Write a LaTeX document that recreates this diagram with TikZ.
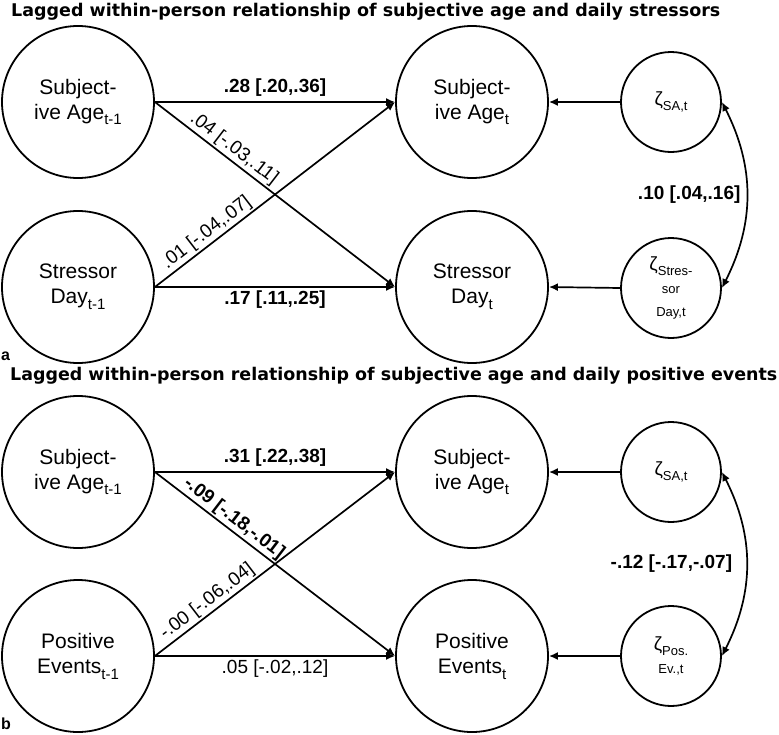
\documentclass[tikz,border=0pt]{standalone}
\usepackage{fontspec}
\setmainfont{Liberation Sans}
\newfontfamily\titlefont{DejaVu Sans}
\usetikzlibrary{arrows.meta}
\newcommand\lsub[1]{\raisebox{-0.28em}{\fontsize{15}{15}\selectfont #1}}
\newcommand\zsub[1]{\raisebox{-0.35em}{\fontsize{13}{13}\selectfont #1}}
\newcommand\zz{{\fontsize{19}{19}\selectfont ζ}}
\begin{document}
\begin{tikzpicture}[x=1pt,y=-1pt,
  big/.style={circle,draw,line width=1.8pt,minimum size=152pt,inner sep=0pt,align=center,font=\fontsize{21}{25}\selectfont},
  small/.style={circle,draw,line width=1.8pt,minimum size=100pt,inner sep=0pt,align=center,font=\fontsize{13}{23}\selectfont},
  arr/.style={line width=1.7pt,-{Latex[length=9pt,width=8pt]}},
  cov/.style={line width=1.7pt,{Latex[length=9pt,width=8pt]}-{Latex[length=9pt,width=8pt]}},
  est/.style={font=\fontsize{19}{22}\selectfont\bfseries},
  ns/.style={font=\fontsize{19}{22}\selectfont},
  diag/.style={sloped,above,inner sep=1.8pt},
  ttl/.style={anchor=base west,inner sep=0pt},
  pnl/.style={anchor=west,inner sep=0pt,font=\fontsize{16}{16}\selectfont\bfseries}
]
\useasboundingbox (0,0) rectangle (779,734);

% titles
\node[ttl] (t1) at (11,16) {\resizebox{709pt}{!}{\titlefont\bfseries Lagged within-person relationship of subjective age and daily stressors}};
\node[ttl] (t2) at (10,380) {\resizebox{767pt}{!}{\titlefont\bfseries Lagged within-person relationship of subjective age and daily positive events}};
\node[pnl] (la) at (1,356) {a};
\node[pnl] (lb) at (1,724) {b};

% panel a
\node[big] (a1) at (78,102) {Subject-\\ive Age\lsub{t-1}};
\node[big] (a2) at (78,287) {Stressor\\Day\lsub{t-1}};
\node[big] (a3) at (472,102) {Subject-\\ive Age\lsub{t}};
\node[big] (a4) at (472,287) {Stressor\\Day\lsub{t}};
\node[small] (a5) at (671,102) {\zz\zsub{SA,t}};
\node[small] (a6) at (671,288) {\zz\zsub{Stres-}\\sor\\Day,t};

\draw[arr] (a1.east) -- node[est,above=1pt]{.28 [.20,.36]} (a3.west);
\draw[arr] (a2.east) -- node[est,below]{.17 [.11,.25]} (a4.west);
\draw[arr] (a1.east) -- node[ns,pos=0.3,diag]{.04 [-.03,.11]} (a4.west);
\draw[arr] (a2.east) -- node[ns,pos=0.245,diag]{.01 [-.04,.07]} (a3.west);
\draw[arr] (a5.west) -- (a3.east);
\draw[arr] (a6.west) -- (a4.east);
\draw[cov] (a5.east) to[bend left=27] node[est,left=2pt]{.10 [.04,.16]} (a6.east);

% panel b
\node[big] (b1) at (78,472) {Subject-\\ive Age\lsub{t-1}};
\node[big] (b2) at (78,656) {Positive\\Events\lsub{t-1}};
\node[big] (b3) at (472,472) {Subject-\\ive Age\lsub{t}};
\node[big] (b4) at (472,656) {Positive\\Events\lsub{t}};
\node[small] (b5) at (671,472) {\zz\zsub{SA,t}};
\node[small] (b6) at (671,656) {\zz\zsub{Pos.}\\Ev.,t};

\draw[arr] (b1.east) -- node[est,above=1pt]{.31 [.22,.38]} (b3.west);
\draw[arr] (b2.east) -- node[ns,below]{.05 [-.02,.12]} (b4.west);
\draw[arr] (b1.east) -- node[est,pos=0.3,diag]{-.09 [-.18,-.01]} (b4.west);
\draw[arr] (b2.east) -- node[ns,pos=0.247,diag]{-.00 [-.06,.04]} (b3.west);
\draw[arr] (b5.west) -- (b3.east);
\draw[arr] (b6.west) -- (b4.east);
\draw[cov] (b5.east) to[bend left=27] node[est,left=10pt]{-.12 [-.17,-.07]} (b6.east);
\end{tikzpicture}
\end{document}
